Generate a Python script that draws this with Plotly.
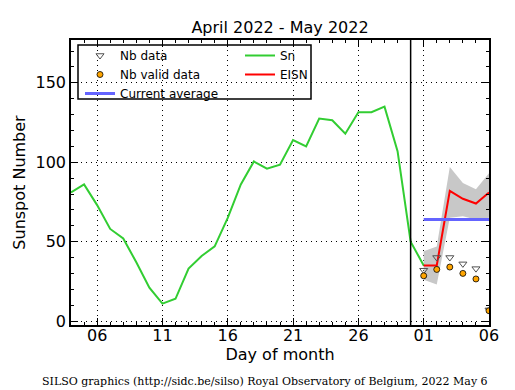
import plotly.graph_objects as go

# Day index: April d -> d, May d -> 30 + d
sn_days = list(range(4, 32))
sn_values = [81, 86, 73, 58, 52, 37, 21, 11, 14, 33, 41, 47, 65, 86, 100.5,
             96, 98.5, 114, 110, 127.5, 126.5, 118, 131.5, 131.5, 135, 107, 50, 35]

may_days = [31, 32, 33, 34, 35, 36]
eisn_values = [35, 35, 82, 77, 74, 81]
eisn_upper = [44, 47, 97, 87, 83, 93]
eisn_lower = [26, 23, 65, 66, 64, 65]
nb_data = [32, 40, 40, 36, 33, 7]
nb_valid = [28.5, 32.5, 34, 30, 26.5, 6.5]
current_average = 64
avg_days = [31, 36]

tick_vals = [6, 11, 16, 21, 26, 31, 36]
tick_text = ["06", "11", "16", "21", "26", "01", "06"]
month_boundary = 30

fig = go.Figure()

# grey band
fig.add_trace(go.Scatter(x=may_days, y=eisn_upper, mode="lines", line=dict(width=0),
                         showlegend=False, hoverinfo="skip"))
fig.add_trace(go.Scatter(x=may_days, y=eisn_lower, mode="lines", line=dict(width=0),
                         fill="tonexty", fillcolor="rgb(200,200,200)",
                         showlegend=False, hoverinfo="skip"))

fig.add_trace(go.Scatter(x=sn_days, y=sn_values, mode="lines", name="Sn",
                         line=dict(color="rgb(50,205,50)", width=2),
                         legend="legend2", legendrank=1))
fig.add_trace(go.Scatter(x=may_days, y=eisn_values, mode="lines", name="EISN",
                         line=dict(color="red", width=2),
                         legend="legend2", legendrank=2))
fig.add_trace(go.Scatter(x=avg_days, y=[current_average] * 2, mode="lines",
                         name="Current average",
                         line=dict(color="rgb(100,100,255)", width=3), legendrank=3))
fig.add_trace(go.Scatter(x=may_days, y=nb_data, mode="markers", name="Nb data",
                         marker=dict(symbol="triangle-down-open", size=7,
                                     color="rgb(80,80,80)", line=dict(width=1)),
                         legendrank=1))
fig.add_trace(go.Scatter(x=may_days, y=nb_valid, mode="markers", name="Nb valid data",
                         marker=dict(symbol="circle", size=6, color="orange",
                                     line=dict(color="black", width=0.8)),
                         legendrank=2))

fig.add_vline(x=month_boundary, line=dict(color="black", width=1.5))

# legend box
fig.add_shape(type="rect", xref="paper", yref="paper",
              x0=(78 - 71) / 418, x1=(311 - 71) / 418,
              y0=(325 - 99) / 285, y1=(325 - 45) / 285,
              line=dict(color="black", width=1.5), fillcolor="white", layer="below")

axis_common = dict(showline=True, linecolor="black", linewidth=1.5, mirror="ticks",
                   ticks="inside", ticklen=7, tickcolor="black", automargin=False,
                   showgrid=True, gridcolor="black", gridwidth=1, griddash="1px,4px",
                   zeroline=False, tickfont=dict(size=16, color="black"))

fig.update_xaxes(range=[4, 36], tickvals=tick_vals, ticktext=tick_text,
                 ticklabelstandoff=-5,
                 minor=dict(dtick=1, tick0=0, ticks="inside", ticklen=3.5,
                            tickcolor="black", showgrid=False),
                 title=dict(text="Day of month", font=dict(size=16, color="black"),
                            standoff=5),
                 **axis_common)
fig.update_yaxes(range=[-2.5, 177], tickvals=[0, 50, 100, 150],
                 minor=dict(dtick=10, tick0=0, ticks="inside", ticklen=3.5,
                            tickcolor="black", showgrid=False),
                 title=dict(text="Sunspot Number", font=dict(size=16, color="black"),
                            standoff=6),
                 **axis_common)

legend_common = dict(orientation="v", xanchor="left", yanchor="top",
                     bgcolor="rgba(0,0,0,0)", borderwidth=0, traceorder="normal",
                     font=dict(size=12, color="black"), tracegroupgap=0)

fig.update_layout(
    width=515, height=390,
    margin=dict(l=71, r=26, t=40, b=65, autoexpand=False),
    paper_bgcolor="white", plot_bgcolor="white",
    font=dict(family="DejaVu Sans", color="black"),
    title=dict(text="April 2022 - May 2022", x=(71 + 489) / 2 / 515, xanchor="center",
               y=1 - 27 / 390, yanchor="middle", font=dict(size=16, color="black"),
               automargin=False),
    legend=dict(x=(80 - 71) / 418, y=(325 - 41) / 285, **legend_common),
    legend2=dict(x=(240 - 71) / 418, y=(325 - 41) / 285, **legend_common),
    annotations=[dict(text="SILSO graphics (http://sidc.be/silso) Royal Observatory of Belgium, 2022 May 6",
                      xref="paper", yref="paper", x=(265 - 71) / 418, y=-(381 - 325) / 285,
                      xanchor="center", yanchor="middle", showarrow=False,
                      font=dict(family="DejaVu Serif", size=11, color="black"))],
)

fig.write_html("out.html", config={"displayModeBar": False},
               post_script="document.body.style.margin='0px';")
